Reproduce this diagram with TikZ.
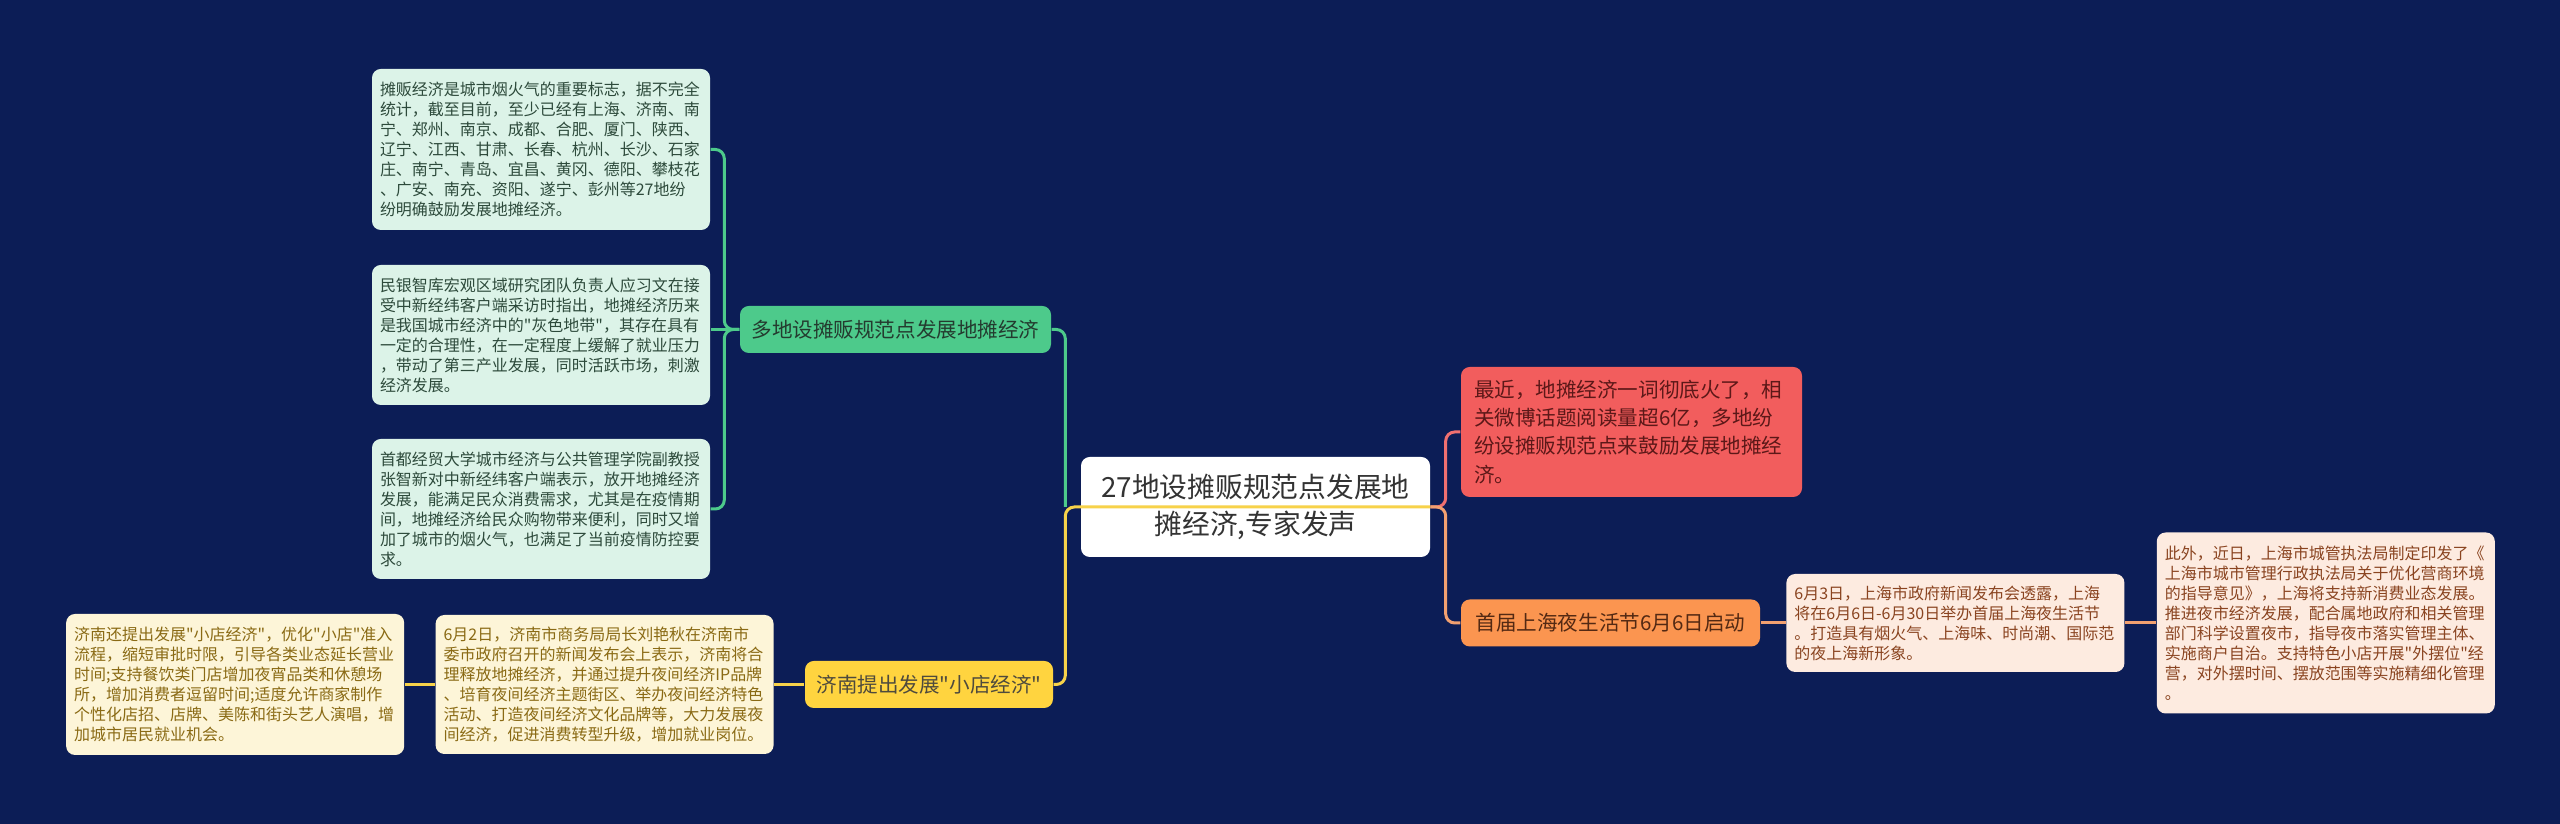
\documentclass[tikz,border=0pt]{standalone}
\usepackage{fontspec}
\newfontfamily\cjk{Noto Sans CJK SC}
\usetikzlibrary{positioning}

\definecolor{bgnavy}{HTML}{0C1D56}
\definecolor{rootText}{HTML}{333333}
\definecolor{greenFill}{HTML}{4DCA8B}
\definecolor{greenLeaf}{HTML}{DCF3E8}
\definecolor{greenText}{HTML}{2D4A3B}
\definecolor{greenLine}{HTML}{4DCA8B}
\definecolor{yellowFill}{HTML}{FFD43F}
\definecolor{yellowLeaf}{HTML}{FDF5D8}
\definecolor{yellowText}{HTML}{8A6A14}
\definecolor{yellowLine}{HTML}{F7D24A}
\definecolor{redFill}{HTML}{F25D5D}
\definecolor{redText}{HTML}{5C1818}
\definecolor{redLine}{HTML}{F07070}
\definecolor{orangeFill}{HTML}{FB9550}
\definecolor{orangeLeaf}{HTML}{FDEBE0}
\definecolor{orangeText}{HTML}{8A4420}
\definecolor{orangeLine}{HTML}{F2A070}

\begin{document}
\begin{tikzpicture}[
      % Styles
      root_topic/.style={
        rectangle, rounded corners=2.5pt, fill=white, text=rootText,
        minimum width=3.49cm, minimum height=1.0cm,
        align=center, font=\cjk\fontsize{7.9}{10.4}\selectfont
      },
      branch/.style={
        rectangle, rounded corners=2.5pt, minimum height=0.47cm,
        inner xsep=0.1cm, inner ysep=0.03cm,
        align=center, font=\cjk\fontsize{5.85}{7}\selectfont
      },
      leaf/.style={
        rectangle, rounded corners=2.5pt,
        text width=3.22cm, inner xsep=0.08cm, inner ysep=0.04cm,
        align=left, font=\cjk\fontsize{4.55}{5.7}\selectfont
      },
      green_branch/.style={branch, fill=greenFill, text=greenText!80!black, minimum width=3.11cm},
      green_leaf/.style={leaf, fill=greenLeaf, text=greenText},
      yellow_branch/.style={branch, fill=yellowFill, text=black!80!yellow, minimum width=2.48cm},
      yellow_leaf/.style={leaf, fill=yellowLeaf, text=yellowText},
      red_leaf/.style={
        rectangle, rounded corners=2.5pt, fill=redFill, text=redText,
        text width=3.15cm, inner xsep=0.13cm, minimum height=1.30cm,
        align=left, font=\cjk\fontsize{5.85}{8}\selectfont
      },
      orange_branch/.style={branch, fill=orangeFill, text=orangeText!60!black, minimum width=2.99cm},
      orange_leaf/.style={leaf, fill=orangeLeaf, text=orangeText},
      link/.style={line width=0.85pt, rounded corners=0.09cm},
      green_line/.style={link, draw=greenLine},
      yellow_line/.style={link, draw=yellowLine},
      red_line/.style={link, draw=redLine},
      orange_line/.style={link, draw=orangeLine}
    ]

    % background and page size
    \fill[bgnavy] (0,0) rectangle (25.6,8.24);
    \useasboundingbox (0,0) rectangle (25.6,8.24);

    % --- 1. NODES ---

    % Center
    \node[root_topic] (root) at (12.555,3.17) {27地设摊贩规范点发展地\\摊经济,专家发声};

    % Left, green group
    \node[green_branch] (gb) at (8.955,4.945) {多地设摊贩规范点发展地摊经济};
    \node[green_leaf, minimum height=1.61cm] (g1) at (5.41,6.745) {摊贩经济是城市烟火气的重要标志，据不完全\\统计，截至目前，至少已经有上海、济南、南\\宁、郑州、南京、成都、合肥、厦门、陕西、\\辽宁、江西、甘肃、长春、杭州、长沙、石家\\庄、南宁、青岛、宜昌、黄冈、德阳、攀枝花\\、广安、南充、资阳、遂宁、彭州等27地纷\\纷明确鼓励发展地摊经济。};
    \node[green_leaf, minimum height=1.40cm] (g2) at (5.41,4.89) {民银智库宏观区域研究团队负责人应习文在接\\受中新经纬客户端采访时指出，地摊经济历来\\是我国城市经济中的"灰色地带"，其存在具有\\一定的合理性，在一定程度上缓解了就业压力\\，带动了第三产业发展，同时活跃市场，刺激\\经济发展。};
    \node[green_leaf, minimum height=1.40cm] (g3) at (5.41,3.15) {首都经贸大学城市经济与公共管理学院副教授\\张智新对中新经纬客户端表示，放开地摊经济\\发展，能满足民众消费需求，尤其是在疫情期\\间，地摊经济给民众购物带来便利，同时又增\\加了城市的烟火气，也满足了当前疫情防控要\\求。};

    % Left, yellow group
    \node[yellow_branch] (yb) at (9.29,1.395) {济南提出发展"小店经济"};
    \node[yellow_leaf, minimum height=1.39cm, left=0.3cm of yb] (y1) {6月2日，济南市商务局局长刘艳秋在济南市\\委市政府召开的新闻发布会上表示，济南将合\\理释放地摊经济，并通过提升夜间经济IP品牌\\、培育夜间经济主题街区、举办夜间经济特色\\活动、打造夜间经济文化品牌等，大力发展夜\\间经济，促进消费转型升级，增加就业岗位。};
    \node[yellow_leaf, minimum height=1.41cm, left=0.3cm of y1] (y2) {济南还提出发展"小店经济"，优化"小店"准入\\流程，缩短审批时限，引导各类业态延长营业\\时间;支持餐饮类门店增加夜宵品类和休憩场\\所，增加消费者逗留时间;适度允许商家制作\\个性化店招、店牌、美陈和街头艺人演唱，增\\加城市居民就业机会。};

    % Right, red and orange groups
    \node[red_leaf] (red) at (16.315,3.92) {最近，地摊经济一词彻底火了，相\\关微博话题阅读量超6亿，多地纷\\纷设摊贩规范点来鼓励发展地摊经\\济。};
    \node[orange_branch] (ob) at (16.105,2.01) {首届上海夜生活节6月6日启动};
    \node[orange_leaf, minimum height=0.98cm, right=0.25cm of ob] (o1) {6月3日，上海市政府新闻发布会透露，上海\\将在6月6日-6月30日举办首届上海夜生活节\\。打造具有烟火气、上海味、时尚潮、国际范\\的夜上海新形象。};
    \node[orange_leaf, minimum height=1.81cm, right=0.31cm of o1] (o2) {此外，近日，上海市城管执法局制定印发了《\\上海市城市管理行政执法局关于优化营商环境\\的指导意见》，上海将支持新消费业态发展。\\推进夜市经济发展，配合属地政府和相关管理\\部门科学设置夜市，指导夜市落实管理主体、\\实施商户自治。支持特色小店开展"外摆位"经\\营，对外摆时间、摆放范围等实施精细化管理\\。};

    % --- 2. EDGES ---

    % root -> left branches
    \draw[green_line] ([xshift=-0.15cm]root.west) |- (gb.east);
    \draw[yellow_line] (root.east) -- ([xshift=-0.15cm]root.west) |- (yb.east);

    % root -> right branches
    \draw[red_line] (root.east) -- ([xshift=0.15cm]root.east) |- (red.west);
    \draw[orange_line] (root.east) -- ([xshift=0.15cm]root.east) |- (ob.west);

    % green branch -> leaves
    \draw[green_line] (gb.west) -- ([xshift=-0.15cm]gb.west) |- (g1.east);
    \draw[green_line] (gb.west) -- (gb.west -| g2.east);
    \draw[green_line] (gb.west) -- ([xshift=-0.15cm]gb.west) |- (g3.east);

    % yellow chain
    \draw[yellow_line] (yb) -- (y1);
    \draw[yellow_line] (y1) -- (y2);

    % orange chain
    \draw[orange_line] (ob) -- (o1);
    \draw[orange_line] (o1) -- (o2);

    \end{tikzpicture}
\end{document}
